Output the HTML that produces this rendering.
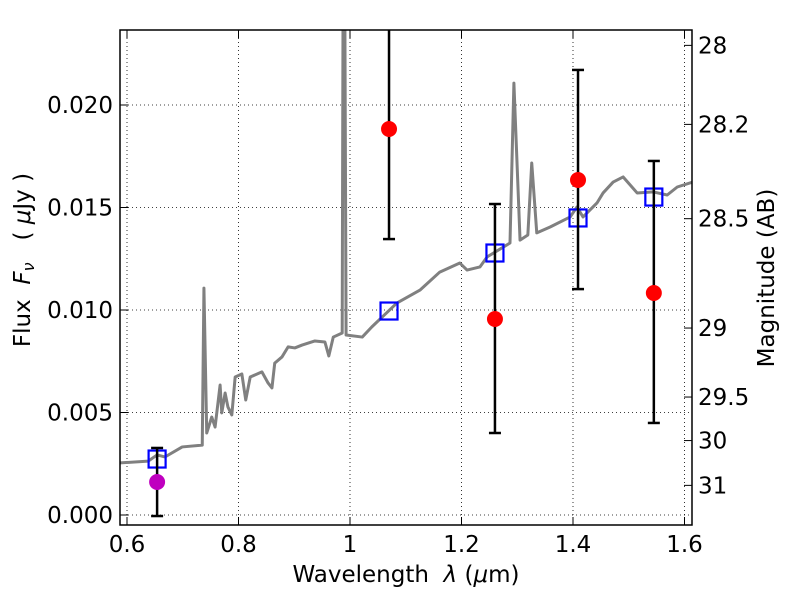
<!DOCTYPE html>
<html><head><meta charset="utf-8"><style>
body{margin:0;background:#fff;}
svg text{font-family:"DejaVu Sans","Liberation Sans",sans-serif;fill:#000;white-space:pre;}
</style></head><body>
<svg id="chart" width="800" height="600" xmlns="http://www.w3.org/2000/svg"></svg>
<script>
const specW=[0.587,0.638,0.654,0.668,0.699,0.735,0.738,0.743,0.752,0.758,0.767,0.770,0.776,0.781,0.788,0.794,0.806,0.813,0.821,0.842,0.853,0.860,0.865,0.878,0.889,0.901,0.914,0.937,0.955,0.962,0.970,0.986,0.988,0.990,0.993,1.022,1.039,1.084,1.126,1.161,1.197,1.210,1.233,1.246,1.287,1.294,1.305,1.319,1.326,1.335,1.359,1.395,1.407,1.418,1.443,1.454,1.472,1.490,1.515,1.544,1.569,1.587,1.615];
const specF=[0.00254,0.00263,0.00293,0.00283,0.00332,0.00341,0.01107,0.0040,0.00478,0.00429,0.00634,0.00498,0.00595,0.00527,0.00488,0.00673,0.00688,0.00561,0.00673,0.00698,0.00644,0.0062,0.00741,0.00771,0.0082,0.00815,0.00829,0.00849,0.00844,0.00776,0.00868,0.00888,0.030,0.030,0.00878,0.00868,0.00917,0.01034,0.01098,0.01185,0.01229,0.01195,0.0121,0.01259,0.01327,0.02107,0.01341,0.01366,0.01717,0.01376,0.01405,0.01454,0.01502,0.01454,0.01522,0.01571,0.01624,0.01649,0.01571,0.01576,0.01561,0.016,0.01624];
const synW=[0.654,1.070,1.260,1.409,1.545];
const synF=[0.00273,0.00995,0.01278,0.01449,0.01551];
const obsW=[1.070,1.260,1.409,1.545];
const obsF=[0.01883,0.00956,0.01634,0.01083];
const obsHi=[0.0260,0.01517,0.02171,0.01727];
const obsLo=[0.01346,0.0040,0.01102,0.00449];
const purW=[0.654], purF=[0.00161], purHi=[0.00327], purLo=[-0.00005];
const xTicks=[0.6,0.8,1.0,1.2,1.4,1.6], xLabels=["0.6","0.8","1","1.2","1.4","1.6"];
const yTicks=[0,0.005,0.01,0.015,0.02], yLabels=["0.000","0.005","0.010","0.015","0.020"];
const magTicks=[28,28.2,28.5,29,29.5,30,31], magLabels=["28","28.2","28.5","29","29.5","30","31"];

const L=120,R=692,T=30,B=525;
const X=w=>127+(w-0.6)*557.5;
const Y=f=>515-f*20500;
const magToF=m=>Math.pow(10,(23.9-m)/2.5);
const NS="http://www.w3.org/2000/svg";
const svg=document.getElementById('chart');
function mk(tag,attrs,parent){const e=document.createElementNS(NS,tag);for(const k in attrs)e.setAttribute(k,attrs[k]);(parent||svg).appendChild(e);return e;}
const defs=mk('defs',{});const cp=mk('clipPath',{id:'clip'},defs);mk('rect',{x:L,y:T,width:R-L,height:B-T},cp);

const grid=mk('g',{});


xTicks.forEach((t,i)=>{
  const x=X(t);
  mk('line',{x1:x,x2:x,y1:T,y2:B,stroke:'#000','stroke-width':0.8,'stroke-dasharray':'1,3'},grid);
  mk('line',{x1:x,x2:x,y1:B,y2:B-8,stroke:'#000','stroke-width':1},grid);
  mk('line',{x1:x,x2:x,y1:T,y2:T+8,stroke:'#000','stroke-width':1},grid);
  const tx=mk('text',{x:x,y:B+27,'font-size':23,'text-anchor':'middle'});
  
  
  tx.textContent=xLabels[i];
});
yTicks.forEach((t,i)=>{
  const y=Y(t);
  mk('line',{x1:L,x2:R,y1:y,y2:y,stroke:'#000','stroke-width':0.8,'stroke-dasharray':'1,3'},grid);
  mk('line',{x1:L,x2:L+8,y1:y,y2:y,stroke:'#000','stroke-width':1},grid);
  const tx=mk('text',{x:L-7,y:y+8,'font-size':23,'text-anchor':'end'});
  
  
  tx.textContent=yLabels[i];
});
magTicks.forEach((m,i)=>{
  const y=Y(magToF(m));
  mk('line',{x1:R,x2:R-8,y1:y,y2:y,stroke:'#000','stroke-width':1},grid);
  const tx=mk('text',{x:R+6,y:y+8,'font-size':23,'text-anchor':'start'});
  
  
  tx.textContent=magLabels[i];
});

const plot=mk('g',{'clip-path':'url(#clip)'});
const line=mk('polyline',{points:specW.map((w,i)=>X(w)+','+Y(specF[i])).join(' '),fill:'none',stroke:'#808080','stroke-width':3,'stroke-linejoin':'round'},plot);



function errbar(w,lo,hi){
  const x=X(w);
  mk('line',{x1:x,x2:x,y1:Y(lo),y2:Y(hi),stroke:'#000','stroke-width':2.5},plot);
  mk('line',{x1:x-6,x2:x+6,y1:Y(lo),y2:Y(lo),stroke:'#000','stroke-width':2.5},plot);
  mk('line',{x1:x-6,x2:x+6,y1:Y(hi),y2:Y(hi),stroke:'#000','stroke-width':2.5},plot);
}
synW.forEach((w,i)=>{
  const s=mk('rect',{x:X(w)-8.5,y:Y(synF[i])-8.5,width:17,height:17,fill:'none',stroke:'#0000ff','stroke-width':2.2},plot);
  
  
});
purW.forEach((w,i)=>{
  errbar(w,purLo[i],purHi[i]);
  const c=mk('circle',{cx:X(w),cy:Y(purF[i]),r:8,fill:'#bf00bf'},plot);
  
  
});
obsW.forEach((w,i)=>{
  errbar(w,obsLo[i],obsHi[i]);
  const c=mk('circle',{cx:X(w),cy:Y(obsF[i]),r:8,fill:'#ff0000'},plot);
  
  
});
const frame=mk('rect',{x:L,y:T,width:R-L,height:B-T,fill:'none',stroke:'#000','stroke-width':1.5});


</script>
<svg style="position:absolute;left:0;top:0" width="800" height="600" xmlns="http://www.w3.org/2000/svg">
<text x="406" y="582" font-size="23" text-anchor="middle" style="font-family:'DejaVu Sans',sans-serif;white-space:pre">Wavelength  <tspan font-style="italic">λ</tspan> (<tspan font-style="italic">μ</tspan>m)</text>
<text transform="translate(30,260) rotate(-90)" font-size="23" text-anchor="middle" style="font-family:'DejaVu Sans',sans-serif;white-space:pre">Flux  <tspan font-style="italic">F</tspan><tspan font-style="italic" font-size="16" dy="4">ν</tspan><tspan dy="-4">   ( </tspan><tspan font-style="italic">μ</tspan>Jy )</text>
<text transform="translate(774,278) rotate(-90)" font-size="23" text-anchor="middle" style="font-family:'DejaVu Sans',sans-serif">Magnitude (AB)</text>
</svg>
</body></html>
